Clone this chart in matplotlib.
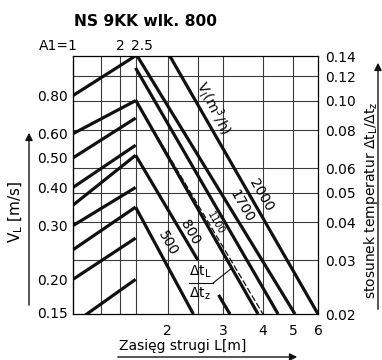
import numpy as np
import matplotlib.pyplot as plt
from matplotlib.patches import FancyArrowPatch
from matplotlib.ticker import NullLocator

W, H = 382, 360
K = 7.7  # V_L [m/s] = K * (dtL/dtz) on this sheet

# left part: V_L lines, A1 = 1 .. 2.5
a1_start = [1, 1, 1, 1, 1, 1, 1, 1, 1.14]
vl_start = [0.80, 0.60, 0.50, 0.40, 0.35, 0.30, 0.25, 0.20, 0.15]
vl_end = [1.08, 0.77, 0.675, 0.55, 0.51, 0.40, 0.345, 0.273, 0.20]
A1_END = 2.5

# right part: air volume lines, throw L [m] vs dtL/dtz
vol_names = ["2000", "1700", "", "", "1100", "800", "500"]
vol_L0 = [2.03, 1.60, 1.58, 1.58, 1.58, 1.58, 1.58]
vol_r0 = [0.14, 0.14, 0.128, 0.1005, 0.1005, 0.0663, 0.0448]
vol_L1 = [6.0, 5.07, 4.48, 3.87, 4.01, 3.15, 2.41]
vol_r1 = [0.02, 0.02, 0.02, 0.02, 0.02, 0.02, 0.02]
vol_dashed = [False, False, False, False, True, False, False]
gap_800 = (0.0231, 0.030)  # 800 line is cut where the dtL/dtz label sits

# label spots on the lines (L, ratio)
name_L = [3.96, 3.44, None, None, 2.83, 2.35, 2.0]
name_r = [0.049, 0.0452, None, None, 0.0397, 0.0371, 0.0342]

a1_grid = [1.5, 2, 2.5]
L_grid = [2, 2.5, 3, 4, 5]
r_grid = [0.03, 0.04, 0.05, 0.06, 0.08, 0.10, 0.12]

L_ticks = [2, 3, 4, 5, 6]
r_ticks = [0.02, 0.03, 0.04, 0.05, 0.06, 0.08, 0.10, 0.12, 0.14]
vl_ticks = [0.20, 0.30, 0.40, 0.50, 0.60, 0.80]
a1_ticks = [1, 2, 2.5]
a1_labels = ["A1=1", "2", "2.5"]

fig = plt.figure(figsize=(W / 100, H / 100), dpi=100)
ax = fig.add_axes([73 / W, 1 - 314 / H, 245 / W, 258 / H])
ax.set_xscale("log")
ax.set_yscale("log")
ax.set_xlim(1, 6)
ax.set_ylim(0.02, 0.14)

grid_kw = dict(color="#3a3a3a", lw=0.8, zorder=1)
for a in a1_grid:
    ax.axvline(np.sqrt(a), **grid_kw)
for g in L_grid:
    ax.axvline(g, **grid_kw)
for g in r_grid:
    ax.axhline(g, **grid_kw)

line_kw = dict(color="#111111", lw=2.3, solid_capstyle="butt", zorder=3)

# left lines
for a0, v0, v1 in zip(a1_start, vl_start, vl_end):
    ax.plot(np.sqrt([a0, A1_END]), np.array([v0, v1]) / K, **line_kw)

# right lines
for i in range(len(vol_L0)):
    xs = np.array([vol_L0[i], vol_L1[i]])
    ys = np.array([vol_r0[i], vol_r1[i]])
    if vol_dashed[i]:
        ax.plot(xs, ys, color="#111111", lw=0.9, ls=(0, (5, 2)), zorder=3)
        continue
    if vol_names[i] == "800":
        # split around the label
        slope = np.log(ys[1] / ys[0]) / np.log(xs[1] / xs[0])
        for lo, hi in [(gap_800[1], ys[0]), (ys[1], gap_800[0])]:
            xa = xs[0] * (hi / ys[0]) ** (1 / slope)
            xb = xs[0] * (lo / ys[0]) ** (1 / slope)
            ax.plot([xa, xb], [hi, lo], **line_kw)
        continue
    ax.plot(xs, ys, **line_kw)

for nm, x, y in zip(vol_names, name_L, name_r):
    if not nm:
        continue
    fs = 7 if nm == "1100" else 10
    ax.text(x, y, nm, rotation=-60, rotation_mode="anchor", ha="center",
            va="center", fontsize=fs, zorder=4)

ax.text(2.785, 0.0946, r"V$_\mathregular{l}$(m$^\mathregular{3}$/h)", rotation=-63,
        rotation_mode="anchor", ha="center", va="center", fontsize=10, zorder=4)

# dtL/dtz label with leader
ax.text(2.53, 0.0259, r"$\Delta$t$_\mathregular{L}$", ha="center", va="bottom", fontsize=10, zorder=4)
ax.text(2.53, 0.0247, r"$\Delta$t$_\mathregular{z}$", ha="center", va="top", fontsize=10, zorder=4)
ax.plot([2.33, 2.79], [0.0253, 0.0253], color="#111111", lw=0.8, zorder=4)
ax.plot([2.79, 3.2], [0.0253, 0.0283], color="#111111", lw=0.8, zorder=4)

for s in ax.spines.values():
    s.set_linewidth(0.9)
    s.set_zorder(5)

ax.set_xticks(L_ticks, [str(v) for v in L_ticks])
ax.xaxis.set_minor_locator(NullLocator())
ax.yaxis.tick_right()
ax.set_yticks(r_ticks, ["%.2f" % v for v in r_ticks])
ax.yaxis.set_minor_locator(NullLocator())
ax.tick_params(axis="x", length=0, pad=7, labelsize=10)
ax.tick_params(axis="y", length=0, pad=5, labelsize=10)

sec = ax.secondary_yaxis("left", functions=(lambda r: r * K, lambda v: v / K))
sec.set_yticks(vl_ticks, ["%.2f" % v for v in vl_ticks])
sec.yaxis.set_minor_locator(NullLocator())
sec.tick_params(length=0, pad=4, labelsize=10)
ax.text(-0.02, 0.0, "0.15", transform=ax.transAxes, ha="right", va="center", fontsize=10)

for a, lab, dx, ha in zip(a1_ticks, a1_labels, [5, 0, 6], ["right", "center", "center"]):
    ax.annotate(lab, xy=(np.sqrt(a), 1), xycoords=("data", "axes fraction"),
                xytext=(dx * 0.72, 7), textcoords="offset points",
                ha=ha, va="center", fontsize=10)

fig.text(74 / W, 1 - 21 / H, "NS 9KK wlk. 800", fontweight="bold", fontsize=11.2,
         ha="left", va="center")
fig.text(16 / W, 1 - 212 / H, r"V$_\mathregular{L}$ [m/s]", rotation=90,
         fontsize=11, ha="center", va="center")
fig.text(371 / W, 1 - 200 / H,
         r"stosunek temperatur $\Delta$t$_\mathregular{L}$/$\Delta$t$_\mathregular{z}$",
         rotation=90, fontsize=10, ha="center", va="center")
fig.text(183 / W, 1 - 346 / H, "Zasięg strugi L[m]", fontsize=10, ha="center", va="center")

arrow_kw = dict(arrowstyle="-|>", lw=1.0, color="#111111", mutation_scale=11)


def fig_arrow(x0, y0, x1, y1):
    fig.patches.append(FancyArrowPatch((x0 / W, 1 - y0 / H), (x1 / W, 1 - y1 / H),
                                       transform=fig.transFigure, **arrow_kw))


fig_arrow(29, 308, 29, 130)
fig_arrow(378, 312, 378, 60)
fig_arrow(115, 357, 300, 357)

fig.savefig("out.png", dpi=100)
